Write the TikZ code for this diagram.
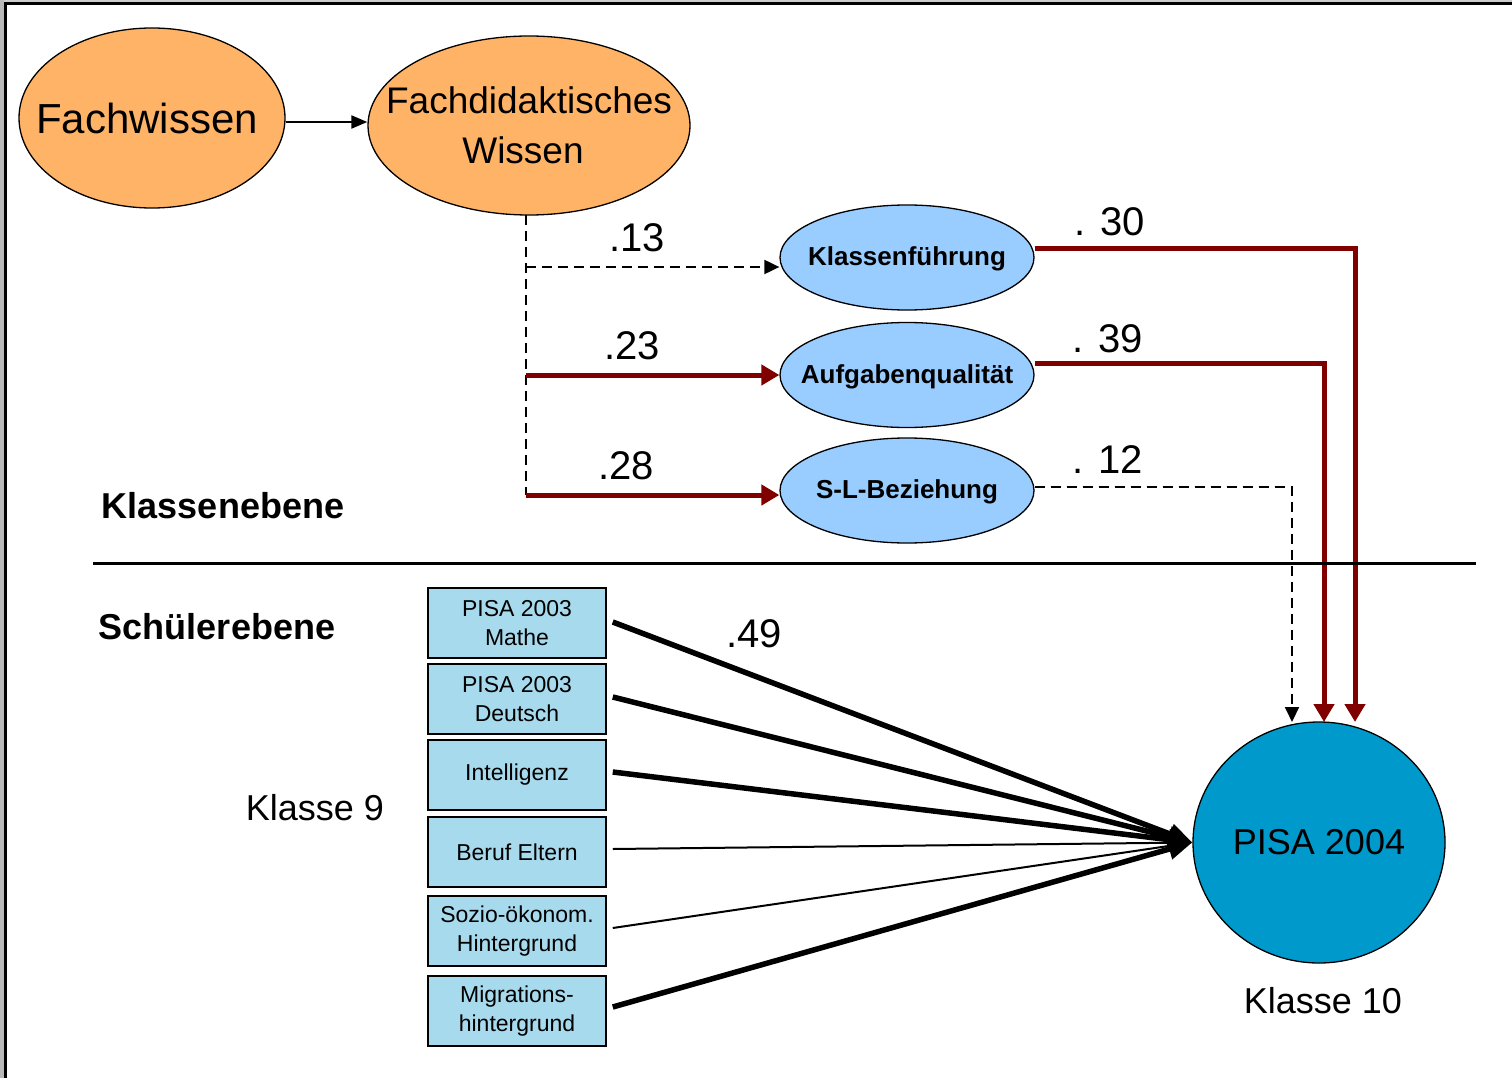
\documentclass[tikz,border=0pt]{standalone}
\usepackage{fontspec}
\setmainfont{Liberation Sans}
\usetikzlibrary{arrows.meta,shapes.geometric}
\definecolor{orangefill}{HTML}{FFB366}
\definecolor{ellblue}{HTML}{99CCFF}
\definecolor{boxblue}{HTML}{A6DAEC}
\definecolor{pisablue}{HTML}{0099CC}
\definecolor{darkred}{HTML}{800000}
\begin{document}
\begin{tikzpicture}[x=1pt,y=-1pt,
  bigoval/.style={ellipse, draw, line width=1.3pt, inner xsep=-70pt, inner ysep=0pt, fill=orangefill, align=center},
  smalloval/.style={ellipse, draw, line width=1.3pt, inner xsep=-60pt, inner ysep=0pt, fill=ellblue,
    minimum width=254pt, minimum height=105pt, text depth=2pt, font=\bfseries\fontsize{26}{30}\selectfont},
  inbox/.style={rectangle, draw, line width=1.5pt, fill=boxblue, minimum width=178pt,
    minimum height=70pt, inner sep=0pt, align=center, font=\fontsize{23}{28.5}\selectfont},
  redarr/.style={draw=darkred, line width=5pt, line join=miter, -{Triangle[length=18pt,width=20pt]}},
  dasharr/.style={line width=2pt, dash pattern=on 10pt off 6pt, -{Triangle[length=15pt,width=14pt]}},
  thickarr/.style={line width=5.5pt, -{Triangle[length=24pt,width=20pt]}},
  thinarr/.style={line width=2pt, -{Triangle[length=22pt,width=16pt]}},
  lab/.style={inner sep=0pt, font=\fontsize{40}{44}\selectfont},
  head/.style={inner sep=0pt, font=\bfseries\fontsize{36}{40}\selectfont},
  plain/.style={inner sep=0pt, font=\fontsize{36}{40}\selectfont}]
\useasboundingbox (0,0) rectangle (1512,1078);
% frame
\fill[gray!55] (0,0) rectangle (4,1078);
\fill[gray!40] (4,0) rectangle (1512,2);
\draw[line width=2.5pt] (5.5,1078) -- (5.5,3.5) -- (1512,3.5);

% top ovals
\node[bigoval, minimum width=266pt, minimum height=180pt, font=\fontsize{42}{48}\selectfont] (fw) at (152,118) {\hspace*{-10pt}Fachwissen};
\node[bigoval, minimum width=322pt, minimum height=179pt, font=\fontsize{37}{50}\selectfont] (fd) at (529,125.5) {Fachdidaktisches\\Wissen\hspace*{12pt}};
\draw[line width=2pt, -{Triangle[length=16pt,width=13pt]}] (fw.east |- 0,122) -- (fd.west |- 0,122);

% class level ovals
\node[smalloval] (kf) at (907,257.5) {Klassenführung};
\node[smalloval] (aq) at (907,375) {Aufgabenqualität};
\node[smalloval] (sl) at (907,490.5) {S-L-Beziehung};

% trunk
\coordinate (t0) at (526,215);
\coordinate (t1) at (526,267);
\coordinate (t2) at (526,375);
\coordinate (t3) at (526,495);
\draw[line width=2pt, dash pattern=on 10pt off 6pt] (t0) -- (t3);
\draw[dasharr] (t1) -- (kf.west |- t1);
\draw[redarr] (t2) -- (aq.west);
\draw[redarr] (t3) -- (sl.west |- t3);

\node[lab] at (637,238) {.13};
\node[lab] at (632,346) {.23};
\node[lab] at (626,466) {.28};

% outcome
\node[ellipse, draw, line width=1.3pt, fill=pisablue, minimum width=252pt, minimum height=241pt,
  inner xsep=-60pt, inner ysep=0pt, font=\fontsize{36}{40}\selectfont] (p) at (1319,842.5) {PISA 2004};
\node[plain] at (1323,1001) {Klasse 10};

\draw[redarr] (kf.east |- 0,248) -| (1355,722);
\draw[redarr] (aq.east |- 0,363) -| (1324,722);
\draw[dasharr] (sl.east |- 0,487) -| (1292,722);

\node[lab] at (1110,222) {. 30};
\node[lab] at (1108,339) {. 39};
\node[lab] at (1108,460) {. 12};

% divider
\draw[line width=3pt] (93,563.5) -- (1476,563.5);
\node[head] at (223,506) {Klassenebene};
\node[head] at (217,627) {Schülerebene};
\node[plain] at (315,808) {Klasse 9};

% student-level boxes
\node[inbox] (b1) at (517,623) {PISA 2003\\Mathe};
\node[inbox] (b2) at (517,699) {PISA 2003\\Deutsch};
\node[inbox] (b3) at (517,775) {Intelligenz};
\node[inbox] (b4) at (517,852) {Beruf Eltern};
\node[inbox] (b5) at (517,931) {Sozio-ökonom.\\Hintergrund};
\node[inbox] (b6) at (517,1011) {Migrations-\\hintergrund};

\draw[thickarr] ([xshift=6pt]b1.east |- 0,622) -- (p.west);
\draw[thickarr] ([xshift=6pt]b2.east |- 0,697) -- (p.west);
\draw[thickarr] ([xshift=6pt]b3.east |- 0,772) -- (p.west);
\draw[thinarr] ([xshift=6pt]b4.east |- 0,849) -- (p.west);
\draw[thinarr] ([xshift=6pt]b5.east |- 0,928) -- (p.west);
\draw[thickarr] ([xshift=6pt]b6.east |- 0,1007) -- (p.west);

\node[lab] at (754,634) {.49};
\end{tikzpicture}
\end{document}
